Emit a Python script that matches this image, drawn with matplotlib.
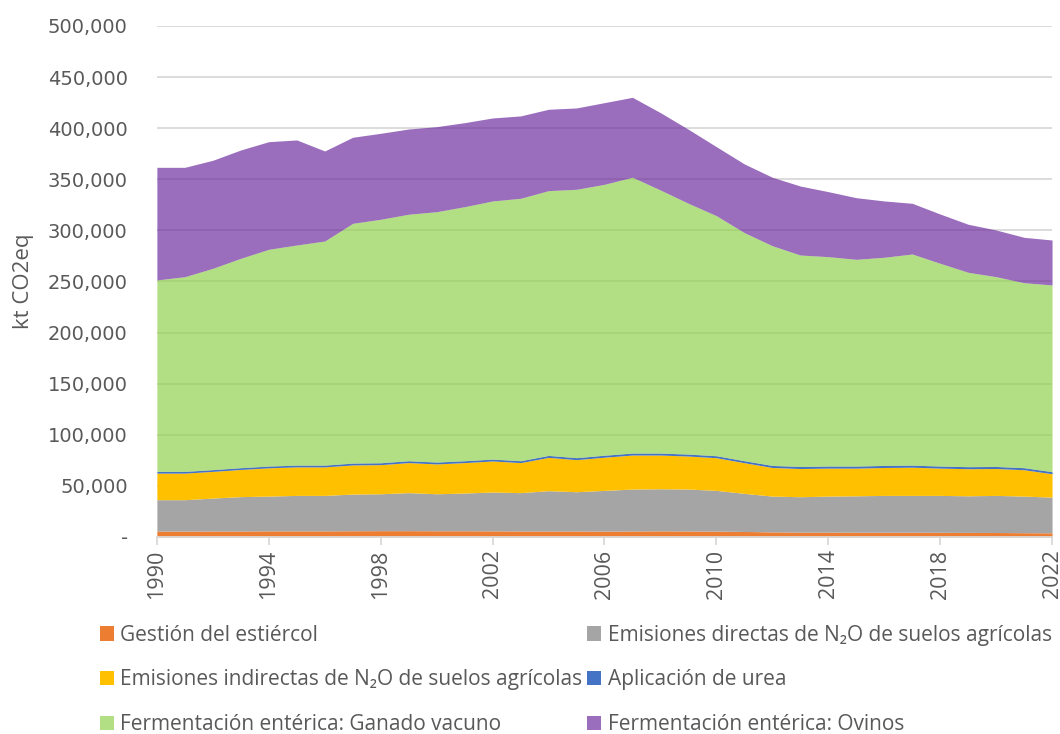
import numpy as np
import matplotlib
matplotlib.use('Agg')
import matplotlib.pyplot as plt
from matplotlib.patches import Patch
from matplotlib.ticker import FuncFormatter

years = list(range(1990, 2023))

# kt CO2eq, bottom to top of the stack
estiercol = [5800, 5800, 5900, 5900, 6000, 6000, 6000, 6100, 6200, 6200, 6100,
             6100, 6000, 5900, 5900, 5900, 5800, 5900, 6000, 5900, 5800, 5400,
             5000, 4800, 4800, 4700, 4700, 4700, 4600, 4500, 4400, 4200, 4100]
n2o_directas = [30700, 30700, 32200, 33600, 34000, 34700, 34700, 35900, 36100, 37200, 36200,
                36900, 38000, 37500, 39400, 38400, 39800, 41000, 41200, 41000, 39800, 37300,
                35000, 34600, 35200, 35600, 36000, 36000, 36100, 35800, 36300, 35800, 34900]
n2o_indirectas = [26000, 26000, 26100, 26600, 27700, 27900, 27900, 28500, 28500, 29400, 29200,
                  29800, 30400, 29400, 32600, 31400, 32500, 33300, 33000, 32300, 32000, 30000,
                  28000, 27600, 27400, 27100, 27300, 27600, 26700, 26500, 26300, 25800, 22900]
urea = [1700, 1700, 1700, 1700, 1700, 1700, 1700, 1800, 1800, 1800, 1800,
        1800, 1800, 1800, 1900, 1900, 1900, 1900, 1900, 1900, 1900, 1900,
        2000, 2000, 2000, 2000, 2000, 2000, 2000, 2000, 2000, 2000, 2000]
vacuno = [187300, 190500, 197000, 204900, 212100, 215400, 219300, 234600, 238300, 241200, 245000,
          248600, 252600, 256800, 259100, 262600, 265100, 269900, 257400, 245400, 234900, 223200,
          215000, 206900, 204900, 202300, 203700, 206600, 198400, 190200, 185700, 181000, 182700]
ovinos = [110200, 107000, 105700, 106000, 105300, 102800, 88100, 84200, 84100, 83400, 83200,
          82200, 81200, 80600, 79600, 79600, 79900, 78200, 75700, 72400, 67500, 67200,
          67000, 67500, 63600, 60300, 55100, 49600, 48200, 47000, 45700, 44400, 44000]

labels = ["Gestión del estiércol",
          "Emisiones directas de N₂O de suelos agrícolas",
          "Emisiones indirectas de N₂O de suelos agrícolas",
          "Aplicación de urea",
          "Fermentación entérica: Ganado vacuno",
          "Fermentación entérica: Ovinos"]
colors = ['#ED7D31', '#A5A5A5', '#FFC000', '#4472C4', '#92D050', '#7030A0']
alphas = [1, 1, 1, 1, 0.7, 0.7]

txt = '#595959'
fam = ['Open Sans', 'DejaVu Sans']

fig = plt.figure(figsize=(10.6, 7.34), dpi=100)
ax = fig.add_axes([0.148, 0.2684, 0.9925 - 0.148, 0.9646 - 0.2684])

ax.set_axisbelow(True)
ax.grid(axis='y', color='#D9D9D9', linewidth=1.3)
series = [estiercol, n2o_directas, n2o_indirectas, urea, vacuno, ovinos]
base = np.zeros(len(years))
for s, c, a in zip(series, colors, alphas):
    top = base + np.array(s)
    ax.fill_between(years, base, top, color=c, alpha=a, linewidth=0, zorder=2)
    base = top

ax.set_xlim(1990, 2022)
ax.set_ylim(0, 500000)
ax.set_yticks(np.arange(0, 500001, 50000))
ax.yaxis.set_major_formatter(FuncFormatter(lambda v, p: '-' if v == 0 else f'{int(v):,}'))
ax.set_xticks(range(1990, 2023, 4))
ax.tick_params(axis='y', length=0, pad=21, labelsize=14, labelcolor=txt)
ax.tick_params(axis='x', length=6, color='#D9D9D9', width=1.3, labelsize=15.5,
               labelcolor=txt, labelrotation=90, pad=3)
for lab in ax.get_xticklabels():
    lab.set_family(fam)
for lab in ax.get_yticklabels():
    lab.set_family('DejaVu Sans')
for sp in ['top', 'right', 'left']:
    ax.spines[sp].set_visible(False)
ax.spines['bottom'].set_color('#D9D9D9')
ax.spines['bottom'].set_linewidth(1.3)
ax.spines['bottom'].set_zorder(3)

fig.text(0.022, 0.617, 'kt CO2eq', rotation=90, va='center', ha='center',
         fontsize=16, color=txt, family=fam)

# legend: 3 rows x 2 columns, filled row by row
order = [0, 2, 4, 1, 3, 5]
handles = [Patch(facecolor=colors[i], alpha=alphas[i], edgecolor='none') for i in order]
leg = fig.legend(handles, [labels[i] for i in order], ncol=2, loc='upper left',
                 bbox_to_anchor=(0.094, 0.149), frameon=False, borderpad=0,
                 borderaxespad=0, handlelength=0.7, handleheight=0.7, handletextpad=0.3,
                 labelspacing=1.14, columnspacing=0.2,
                 prop={'family': fam, 'size': 15})
for t in leg.get_texts():
    t.set_color(txt)

fig.savefig('out.png', dpi=100)
